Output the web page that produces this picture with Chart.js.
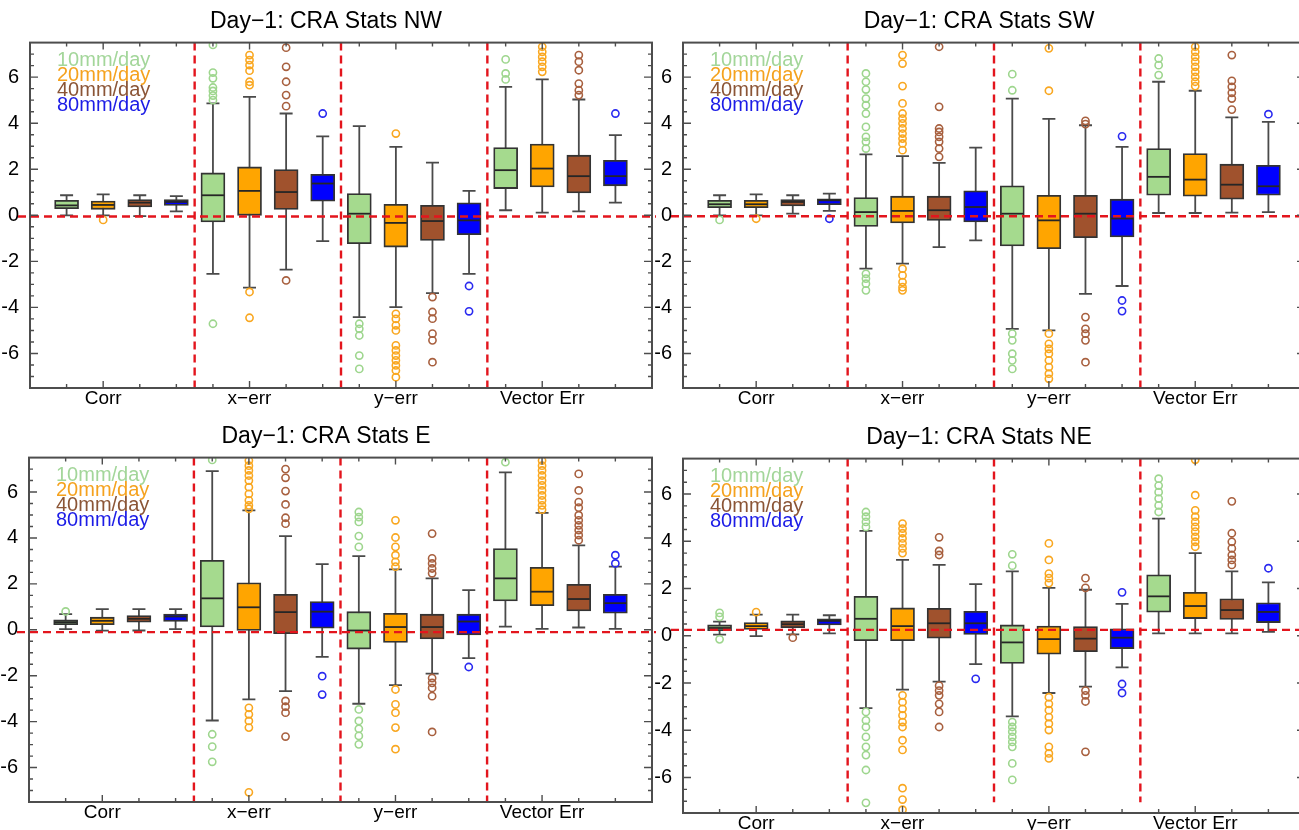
<!DOCTYPE html>
<html>
<head>
<meta charset="utf-8">
<script src="https://cdn.jsdelivr.net/npm/chart.js@4.4.1/dist/chart.umd.min.js"></script>
<style>
  html, body { margin: 0; padding: 0; background: #fff; overflow: hidden; }
  body { width: 1299px; height: 830px; position: relative; }
  canvas { position: absolute; }
</style>
</head>
<body>
<canvas id="nw"></canvas>
<canvas id="sw"></canvas>
<canvas id="e"></canvas>
<canvas id="ne"></canvas>
<script>
const categories = ['Corr', 'x−err', 'y−err', 'Vector Err'];
const thresholds = ['10mm/day', '20mm/day', '40mm/day', '80mm/day'];
const panelTitles = ['Day−1: CRA Stats NW', 'Day−1: CRA Stats SW', 'Day−1: CRA Stats E', 'Day−1: CRA Stats NE'];
const xLabelPos = [2, 6, 10, 14];
const dividers = [4.5, 8.5, 12.5];
const yTicks = [-6, -4, -2, 0, 2, 4, 6];
const refLine = [-0.05, -0.04, -0.1, 0.25];

// each box: [low whisker, q1, median, q3, high whisker]
// order: Corr 10/20/40/80, x-err 10/20/40/80, y-err ..., Vector Err ...
const nwBoxes = [
  [0.0, 0.29, 0.43, 0.65, 0.87], [0.0, 0.26, 0.45, 0.62, 0.91], [-0.04, 0.36, 0.55, 0.68, 0.87], [0.17, 0.43, 0.58, 0.68, 0.83],
  [-2.54, -0.29, 0.87, 1.84, 4.86], [-3.14, 0.0, 1.06, 2.1, 5.14], [-2.36, 0.25, 1.01, 1.99, 4.42], [-1.12, 0.61, 1.38, 1.78, 3.43],
  [-4.42, -1.23, 0.07, 0.94, 3.87], [-3.99, -1.38, -0.33, 0.48, 2.97], [-3.38, -1.09, -0.25, 0.43, 2.29], [-2.54, -0.84, -0.22, 0.54, 1.06],
  [0.22, 1.16, 1.96, 2.94, 5.58], [0.12, 1.23, 2.03, 3.09, 5.9], [0.17, 0.97, 1.7, 2.61, 5.03], [0.55, 1.28, 1.7, 2.39, 3.48]
];
const nwOutliers = [
  [], [-0.2], [], [],
  [7.4, 6.2, 5.95, 5.55, 5.4, 5.2, 5.0, -4.71], [6.96, 6.74, 6.52, 6.28, 5.8, 5.65, -3.33, -4.45], [7.28, 6.45, 5.8, 5.22, 4.74, -2.83], [4.42],
  [-4.71, -4.93, -5.22, -6.09, -6.67], [3.55, -4.28, -4.5, -4.78, -5.0, -5.65, -5.87, -6.09, -6.3, -6.52, -6.74, -7.03], [-3.55, -4.2, -4.49, -5.14, -5.43, -6.38], [-3.07, -4.17],
  [6.77, 6.16, 5.9], [7.32, 7.1, 6.88, 6.67, 6.45, 6.23], [6.96, 6.67, 6.3, 5.72, 5.43, 5.22], [4.42]
];

const swBoxes = [
  [0.0, 0.33, 0.48, 0.65, 0.87], [0.0, 0.33, 0.48, 0.65, 0.91], [0.07, 0.41, 0.58, 0.68, 0.87], [0.19, 0.46, 0.65, 0.72, 0.94],
  [-2.32, -0.48, 0.14, 0.77, 2.65], [-2.1, -0.33, 0.19, 0.83, 2.57], [-1.38, -0.22, 0.22, 0.83, 2.28], [-1.09, -0.29, 0.36, 1.06, 2.94],
  [-4.93, -1.33, 0.07, 1.28, 5.07], [-5.0, -1.45, -0.22, 0.87, 4.19], [-3.41, -0.97, 0.07, 0.87, 3.91], [-3.07, -0.94, -0.14, 0.7, 2.97],
  [0.1, 0.87, 1.67, 2.9, 5.8], [0.1, 0.83, 1.55, 2.68, 5.41], [0.12, 0.7, 1.33, 2.22, 4.25], [0.14, 0.87, 1.26, 2.17, 4.06]
];
const swOutliers = [
  [-0.2], [-0.15], [], [-0.15],
  [6.16, 5.8, 5.46, 5.07, 4.78, 4.42, 3.84, 3.41, 3.19, 2.9, -2.54, -2.75, -2.97, -3.26],
  [6.96, 6.59, 5.61, 4.86, 4.42, 4.2, 3.99, 3.77, 3.55, 3.33, 3.12, 2.83, -2.32, -2.61, -2.9, -3.12, -3.26],
  [7.32, 4.71, 3.77, 3.62, 3.41, 3.19, 2.9, 2.54], [],
  [6.13, 5.43, -5.14, -5.43, -6.01, -6.3, -6.67], [7.25, 5.41, -5.14, -5.58, -5.8, -6.01, -6.3, -6.59, -6.88, -7.1],
  [4.1, 3.96, -4.42, -4.93, -5.14, -5.43, -6.38], [3.43, -3.7, -4.16],
  [6.81, 6.52, 6.09], [7.32, 7.1, 6.88, 6.67, 6.45, 6.23, 6.01, 5.8, 5.61], [6.96, 5.84, 5.58, 5.32, 5.07, 4.59], [4.39]
];

const eBoxes = [
  [0.03, 0.22, 0.33, 0.43, 0.68], [-0.04, 0.22, 0.39, 0.55, 0.9], [-0.03, 0.33, 0.48, 0.62, 0.9], [0.03, 0.36, 0.58, 0.69, 0.9],
  [-3.95, 0.12, 1.37, 3.03, 6.91], [-3.03, -0.03, 0.98, 2.05, 5.2], [-2.67, -0.17, 0.77, 1.55, 4.08], [-1.18, 0.07, 0.79, 1.23, 2.86],
  [-3.22, -0.84, -0.03, 0.79, 3.21], [-2.41, -0.55, 0.12, 0.72, 2.63], [-1.91, -0.4, 0.12, 0.68, 2.24], [-1.23, -0.22, 0.36, 0.68, 1.73],
  [0.14, 1.26, 2.24, 3.54, 6.86], [0.04, 1.05, 1.66, 2.72, 5.09], [0.1, 0.82, 1.34, 1.98, 3.68], [0.04, 0.72, 1.16, 1.55, 2.75]
];
const eOutliers = [
  [0.8], [], [], [],
  [7.4, -4.55, -5.09, -5.75],
  [7.37, 7.15, 6.94, 6.72, 6.5, 6.21, 5.92, 5.64, 5.42, 5.27, -3.4, -3.68, -3.97, -4.26, -7.08],
  [7.0, 6.62, 6.04, 5.46, 4.88, 4.62, -3.1, -3.35, -3.61, -4.65], [-2.02, -2.82],
  [5.13, 4.91, 4.7, 4.08, 3.61, -3.47, -3.97, -4.31, -4.62, -4.99],
  [4.77, 4.02, 3.61, 3.25, 2.96, 2.75, -2.6, -3.25, -3.61, -4.26, -5.2],
  [4.19, 3.11, 2.89, 2.67, 2.46, -2.1, -2.31, -2.53, -2.89, -4.45], [-1.62],
  [7.3], [7.37, 7.15, 6.94, 6.72, 6.5, 6.29, 6.07, 5.85, 5.64, 5.42, 5.23],
  [6.79, 6.07, 5.56, 5.32, 4.99, 4.77, 4.55, 4.34, 4.12, 3.9], [3.25, 2.89]
];

const neBoxes = [
  [0.05, 0.22, 0.33, 0.46, 0.6], [-0.01, 0.27, 0.41, 0.56, 0.9], [0.06, 0.34, 0.49, 0.63, 0.9], [0.1, 0.46, 0.63, 0.72, 0.87],
  [-3.06, -0.21, 0.72, 1.67, 4.44], [-2.28, -0.21, 0.41, 1.18, 3.21], [-1.94, -0.1, 0.53, 1.16, 3.0], [-1.2, 0.06, 0.53, 1.04, 2.19],
  [-3.41, -1.17, -0.28, 0.46, 2.73], [-2.42, -0.78, -0.14, 0.41, 2.03], [-2.15, -0.67, -0.12, 0.39, 1.95], [-1.34, -0.54, -0.08, 0.3, 1.35],
  [0.1, 1.0, 1.67, 2.58, 4.96], [0.1, 0.73, 1.26, 1.84, 3.5], [0.1, 0.69, 1.09, 1.57, 2.73], [0.17, 0.56, 1.01, 1.4, 2.26]
];
const neOutliers = [
  [0.97, 0.8, -0.15], [1.0], [-0.08], [],
  [5.24, 5.04, 4.82, 4.61, -3.22, -3.58, -3.86, -4.28, -4.7, -5.05, -5.68, -7.07],
  [4.75, 4.54, 4.34, 4.12, 3.91, 3.7, 3.5, -2.52, -2.81, -3.09, -3.37, -3.65, -3.86, -4.42, -4.83, -6.45, -6.93, -7.36],
  [4.17, 3.59, 3.42, -2.11, -2.32, -2.52, -2.88, -3.22, -3.86], [-1.82],
  [3.45, 2.97, -3.65, -3.86, -4.06, -4.28, -4.49, -4.7, -5.4, -6.1],
  [3.91, 3.21, 2.63, 2.44, 2.23, -2.6, -2.88, -3.15, -3.44, -3.72, -3.99, -4.7, -4.98, -5.19],
  [2.44, 2.03, -2.32, -2.52, -2.78, -4.91], [1.84, -2.04, -2.42],
  [6.65, 6.36, 6.08, 5.81, 5.52, 5.24], [7.45, 5.95, 5.31, 5.04, 4.82, 4.61, 4.41, 4.19, 3.98, 3.77],
  [5.69, 4.34, 3.98, 3.7, 3.42, 3.21, 3.0], [2.86]
];

const boxFill = ['#a5da8e', '#ffa500', '#a0522d', '#0000ff'];
const outlierColors = ['#9ed68e', '#f9a720', '#a8603f', '#2a2af0'];
const legendColors = ['#a3d69a', '#f5a21e', '#8b5536', '#1c1ce6'];

Chart.defaults.font.family = "'Liberation Sans', Arial, Helvetica, sans-serif";
Chart.defaults.color = '#000';

const panels = [
  { id: 'nw', boxes: nwBoxes, outliers: nwOutliers, left: 0, top: 0, width: 660, height: 416, yWidth: 30, divBottom: -7.5 },
  { id: 'sw', boxes: swBoxes, outliers: swOutliers, left: 653, top: 0, width: 660, height: 416, yWidth: 30, divBottom: -7.5 },
  { id: 'e', boxes: eBoxes, outliers: eOutliers, left: 0, top: 415, width: 660, height: 415, yWidth: 29, divBottom: -7.5 },
  { id: 'ne', boxes: neBoxes, outliers: neOutliers, left: 653, top: 416, width: 660, height: 425, yWidth: 30, divBottom: -7.05 }
];

function boxPos(g, k) { return g * 4 + k + 1; }

function makeChart(p, idx) {
  const canvas = document.getElementById(p.id);
  canvas.width = p.width;
  canvas.height = p.height;
  canvas.style.left = p.left + 'px';
  canvas.style.top = p.top + 'px';

  const datasets = [];
  thresholds.forEach((t, k) => {
    datasets.push({
      type: 'bar',
      label: t,
      data: categories.map((c, g) => ({ x: boxPos(g, k), y: [p.boxes[g * 4 + k][1], p.boxes[g * 4 + k][3]] })),
      backgroundColor: boxFill[k],
      borderColor: '#333',
      borderWidth: 1.8,
      borderSkipped: false,
      barThickness: 24,
      grouped: false,
      order: 2
    });
  });
  thresholds.forEach((t, k) => {
    const pts = [];
    categories.forEach((c, g) => p.outliers[g * 4 + k].forEach(v => pts.push({ x: boxPos(g, k), y: v })));
    datasets.push({
      type: 'scatter',
      label: t + ' outliers',
      data: pts,
      pointStyle: 'circle',
      pointRadius: 3.6,
      pointBorderWidth: 1.6,
      borderColor: outlierColors[k],
      backgroundColor: 'rgba(0,0,0,0)',
      clip: 0,
      order: 1
    });
  });

  // whiskers, medians, dashed guide lines, frame, inward ticks, threshold legend
  const boxPlugin = {
    id: 'boxExtras',
    beforeDatasetsDraw(chart) {
      const { ctx, scales: { x, y } } = chart;
      ctx.save();
      ctx.strokeStyle = '#4a4a4a';
      ctx.lineWidth = 1.8;
      p.boxes.forEach((b, i) => {
        const px = x.getPixelForValue(i + 1);
        const lo = y.getPixelForValue(b[0]);
        const hi = y.getPixelForValue(b[4]);
        ctx.beginPath();
        ctx.moveTo(px, lo); ctx.lineTo(px, hi);
        ctx.moveTo(px - 6.5, lo); ctx.lineTo(px + 6.5, lo);
        ctx.moveTo(px - 6.5, hi); ctx.lineTo(px + 6.5, hi);
        ctx.stroke();
      });
      ctx.restore();
    },
    afterDatasetsDraw(chart) {
      const { ctx, chartArea: a, scales: { x, y } } = chart;
      ctx.save();
      // medians
      ctx.strokeStyle = '#262626';
      ctx.lineWidth = 1.8;
      p.boxes.forEach((b, i) => {
        const px = x.getPixelForValue(i + 1);
        const py = y.getPixelForValue(b[2]);
        ctx.beginPath();
        ctx.moveTo(px - 11, py); ctx.lineTo(px + 11, py);
        ctx.stroke();
      });
      // red dashed lines
      ctx.strokeStyle = '#e3151d';
      ctx.lineWidth = 2.4;
      ctx.setLineDash([8, 5]);
      const ry = y.getPixelForValue(refLine[idx]);
      ctx.beginPath();
      ctx.moveTo(a.left - 12, ry); ctx.lineTo(a.right + 4, ry);
      ctx.stroke();
      dividers.forEach(d => {
        const dx = x.getPixelForValue(d);
        ctx.beginPath();
        ctx.moveTo(dx, a.top); ctx.lineTo(dx, y.getPixelForValue(p.divBottom));
        ctx.stroke();
      });
      ctx.setLineDash([]);
      // frame
      ctx.strokeStyle = '#4d4d4d';
      ctx.lineWidth = 2;
      ctx.strokeRect(a.left, a.top, a.right - a.left, a.bottom - a.top);
      // inward ticks
      ctx.lineWidth = 1.4;
      ctx.beginPath();
      for (let v = -7; v <= 7; v += 0.5) {
        const py = y.getPixelForValue(v);
        const len = yTicks.includes(v) ? 8 : 4;
        ctx.moveTo(a.left, py); ctx.lineTo(a.left + len, py);
        ctx.moveTo(a.right, py); ctx.lineTo(a.right - len, py);
      }
      for (let i = 1; i <= 16; i++) {
        const px = x.getPixelForValue(i);
        const len = xLabelPos.includes(i) ? 7 : 4;
        ctx.moveTo(px, a.bottom); ctx.lineTo(px, a.bottom - len);
        ctx.moveTo(px, a.top); ctx.lineTo(px, a.top + len);
      }
      ctx.stroke();
      // threshold legend
      ctx.font = "20px 'Liberation Sans', Arial, sans-serif";
      ctx.textBaseline = 'middle';
      ctx.textAlign = 'left';
      thresholds.forEach((t, k) => {
        ctx.fillStyle = legendColors[k];
        ctx.fillText(t, a.left + 27, a.top + 18 + 15 * k);
      });
      ctx.restore();
    }
  };

  return new Chart(canvas, {
    type: 'bar',
    data: { datasets },
    options: {
      responsive: false,
      animation: false,
      events: [],
      layout: { padding: { left: 0, right: 8, top: 0, bottom: 0 } },
      plugins: {
        legend: { display: false },
        tooltip: { enabled: false },
        title: {
          display: true,
          text: panelTitles[idx],
          color: '#000',
          font: { size: 23, weight: 'normal' },
          padding: { top: 8, bottom: 7 }
        }
      },
      scales: {
        x: {
          type: 'linear',
          min: 0,
          max: 17,
          offset: false,
          grid: { display: false, drawTicks: false },
          border: { display: false },
          afterBuildTicks: s => { s.ticks = xLabelPos.map(v => ({ value: v })); },
          afterFit: s => { s.height = 28; },
          ticks: {
            autoSkip: false,
            maxRotation: 0,
            padding: -1,
            font: { size: 19 },
            color: '#000',
            callback: v => categories[xLabelPos.indexOf(v)]
          }
        },
        y: {
          type: 'linear',
          min: -7.5,
          max: 7.5,
          grid: { display: false, drawTicks: false },
          border: { display: false },
          afterBuildTicks: s => { s.ticks = yTicks.map(v => ({ value: v })); },
          afterFit: s => { s.width = p.yWidth; },
          ticks: {
            padding: 11,
            font: { size: 20 },
            color: '#000',
            callback: v => String(v)
          }
        }
      }
    },
    plugins: [boxPlugin]
  });
}

panels.forEach((p, i) => makeChart(p, i));
</script>
</body>
</html>
